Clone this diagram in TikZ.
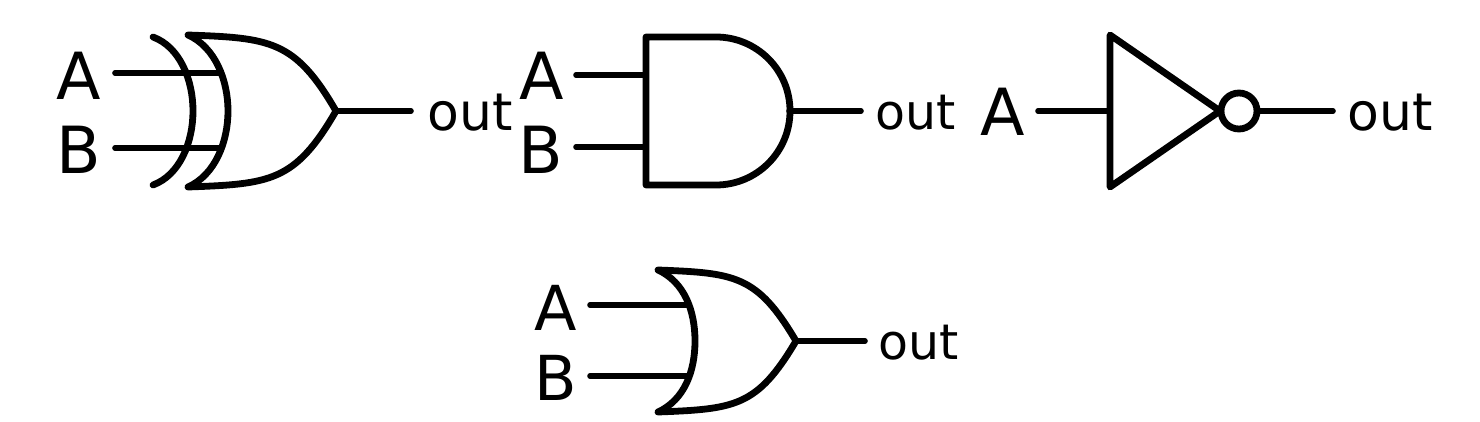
\documentclass[tikz,border=0pt]{standalone}
\usepackage{fontspec}
\setmainfont{DejaVu Sans}
\tikzset{gate/.style={line width=6.8pt,line cap=round,line join=round,black},
wire/.style={line width=5.6pt,line cap=round},
big/.style={inner sep=0pt,font=\fontsize{65}{65}\selectfont},
bigr/.style={inner sep=0pt,font=\fontsize{62}{62}\selectfont},
small/.style={inner sep=0pt,font=\fontsize{52}{52}\selectfont},
smallr/.style={inner sep=0pt,font=\fontsize{49}{49}\selectfont}}
\begin{document}
\begin{tikzpicture}[x=1pt,y=-1pt]
\useasboundingbox (0,0) rectangle (1480,422);
% XOR
\node[big] (a1) at (79,76) {A};
\node[big] (b1) at (79,150) {B};
\node[small] (o1) at (470,113) {out};
\coordinate (x1a) at (115,73);\coordinate (x1ae) at (220,73);
\coordinate (x1b) at (115,148);\coordinate (x1be) at (220,148);
\coordinate (x1o) at (336,111);\coordinate (x1oe) at (411,111);
\draw[wire] (x1a)--(x1ae);
\draw[wire] (x1b)--(x1be);
\draw[wire] (x1o)--(x1oe);
\draw[gate] (188,35) .. controls (270,38) and (295,40) .. (336,111) .. controls (295,182) and (270,184) .. (188,187) .. controls (215,175) and (228,142) .. (228,111) .. controls (228,80) and (215,47) .. (188,35) -- cycle;
\draw[gate] (153,37) .. controls (180,47) and (193,80) .. (193,111) .. controls (193,142) and (180,175) .. (153,185);
% AND
\node[big] (a2) at (542,76) {A};
\node[big] (b2) at (541,150) {B};
\node[smallr] (o2) at (916,113) {out};
\coordinate (x2a) at (576,75);\coordinate (x2ae) at (646,75);
\coordinate (x2b) at (576,147);\coordinate (x2be) at (646,147);
\coordinate (x2o) at (789,111);\coordinate (x2oe) at (861,111);
\draw[wire] (x2a)--(x2ae);
\draw[wire] (x2b)--(x2be);
\draw[wire] (x2o)--(x2oe);
\draw[gate] (646,37) -- (716,37) arc[start angle=-90,end angle=90,radius=74] -- (646,185) -- cycle;
% NOT
\node[big] (a3) at (1003,112) {A};
\node[small] (o3) at (1390,113) {out};
\coordinate (x3a) at (1038,111);\coordinate (x3ae) at (1110,111);
\coordinate (x3o) at (1258,111);\coordinate (x3oe) at (1333,111);
\draw[wire] (x3a)--(x3ae);
\draw[wire] (x3o)--(x3oe);
\draw[gate] (1110,35) -- (1220,111) -- (1110,187) -- cycle;
\draw[gate] (1239,111) circle (18);
% OR
\node[bigr] (a4) at (556,308) {A};
\node[bigr] (b4) at (556,378) {B};
\node[smallr] (o4) at (919,343) {out};
\coordinate (x4a) at (590,305);\coordinate (x4ae) at (688,305);
\coordinate (x4b) at (590,376);\coordinate (x4be) at (688,376);
\coordinate (x4o) at (796,341);\coordinate (x4oe) at (865,341);
\draw[wire] (x4a)--(x4ae);
\draw[wire] (x4b)--(x4be);
\draw[wire] (x4o)--(x4oe);
\draw[gate] (658,270) .. controls (735,273) and (757,275) .. (796,341) .. controls (757,407) and (735,409) .. (658,412) .. controls (684,400) and (695,372) .. (695,341) .. controls (695,310) and (684,282) .. (658,270) -- cycle;
\end{tikzpicture}
\end{document}
